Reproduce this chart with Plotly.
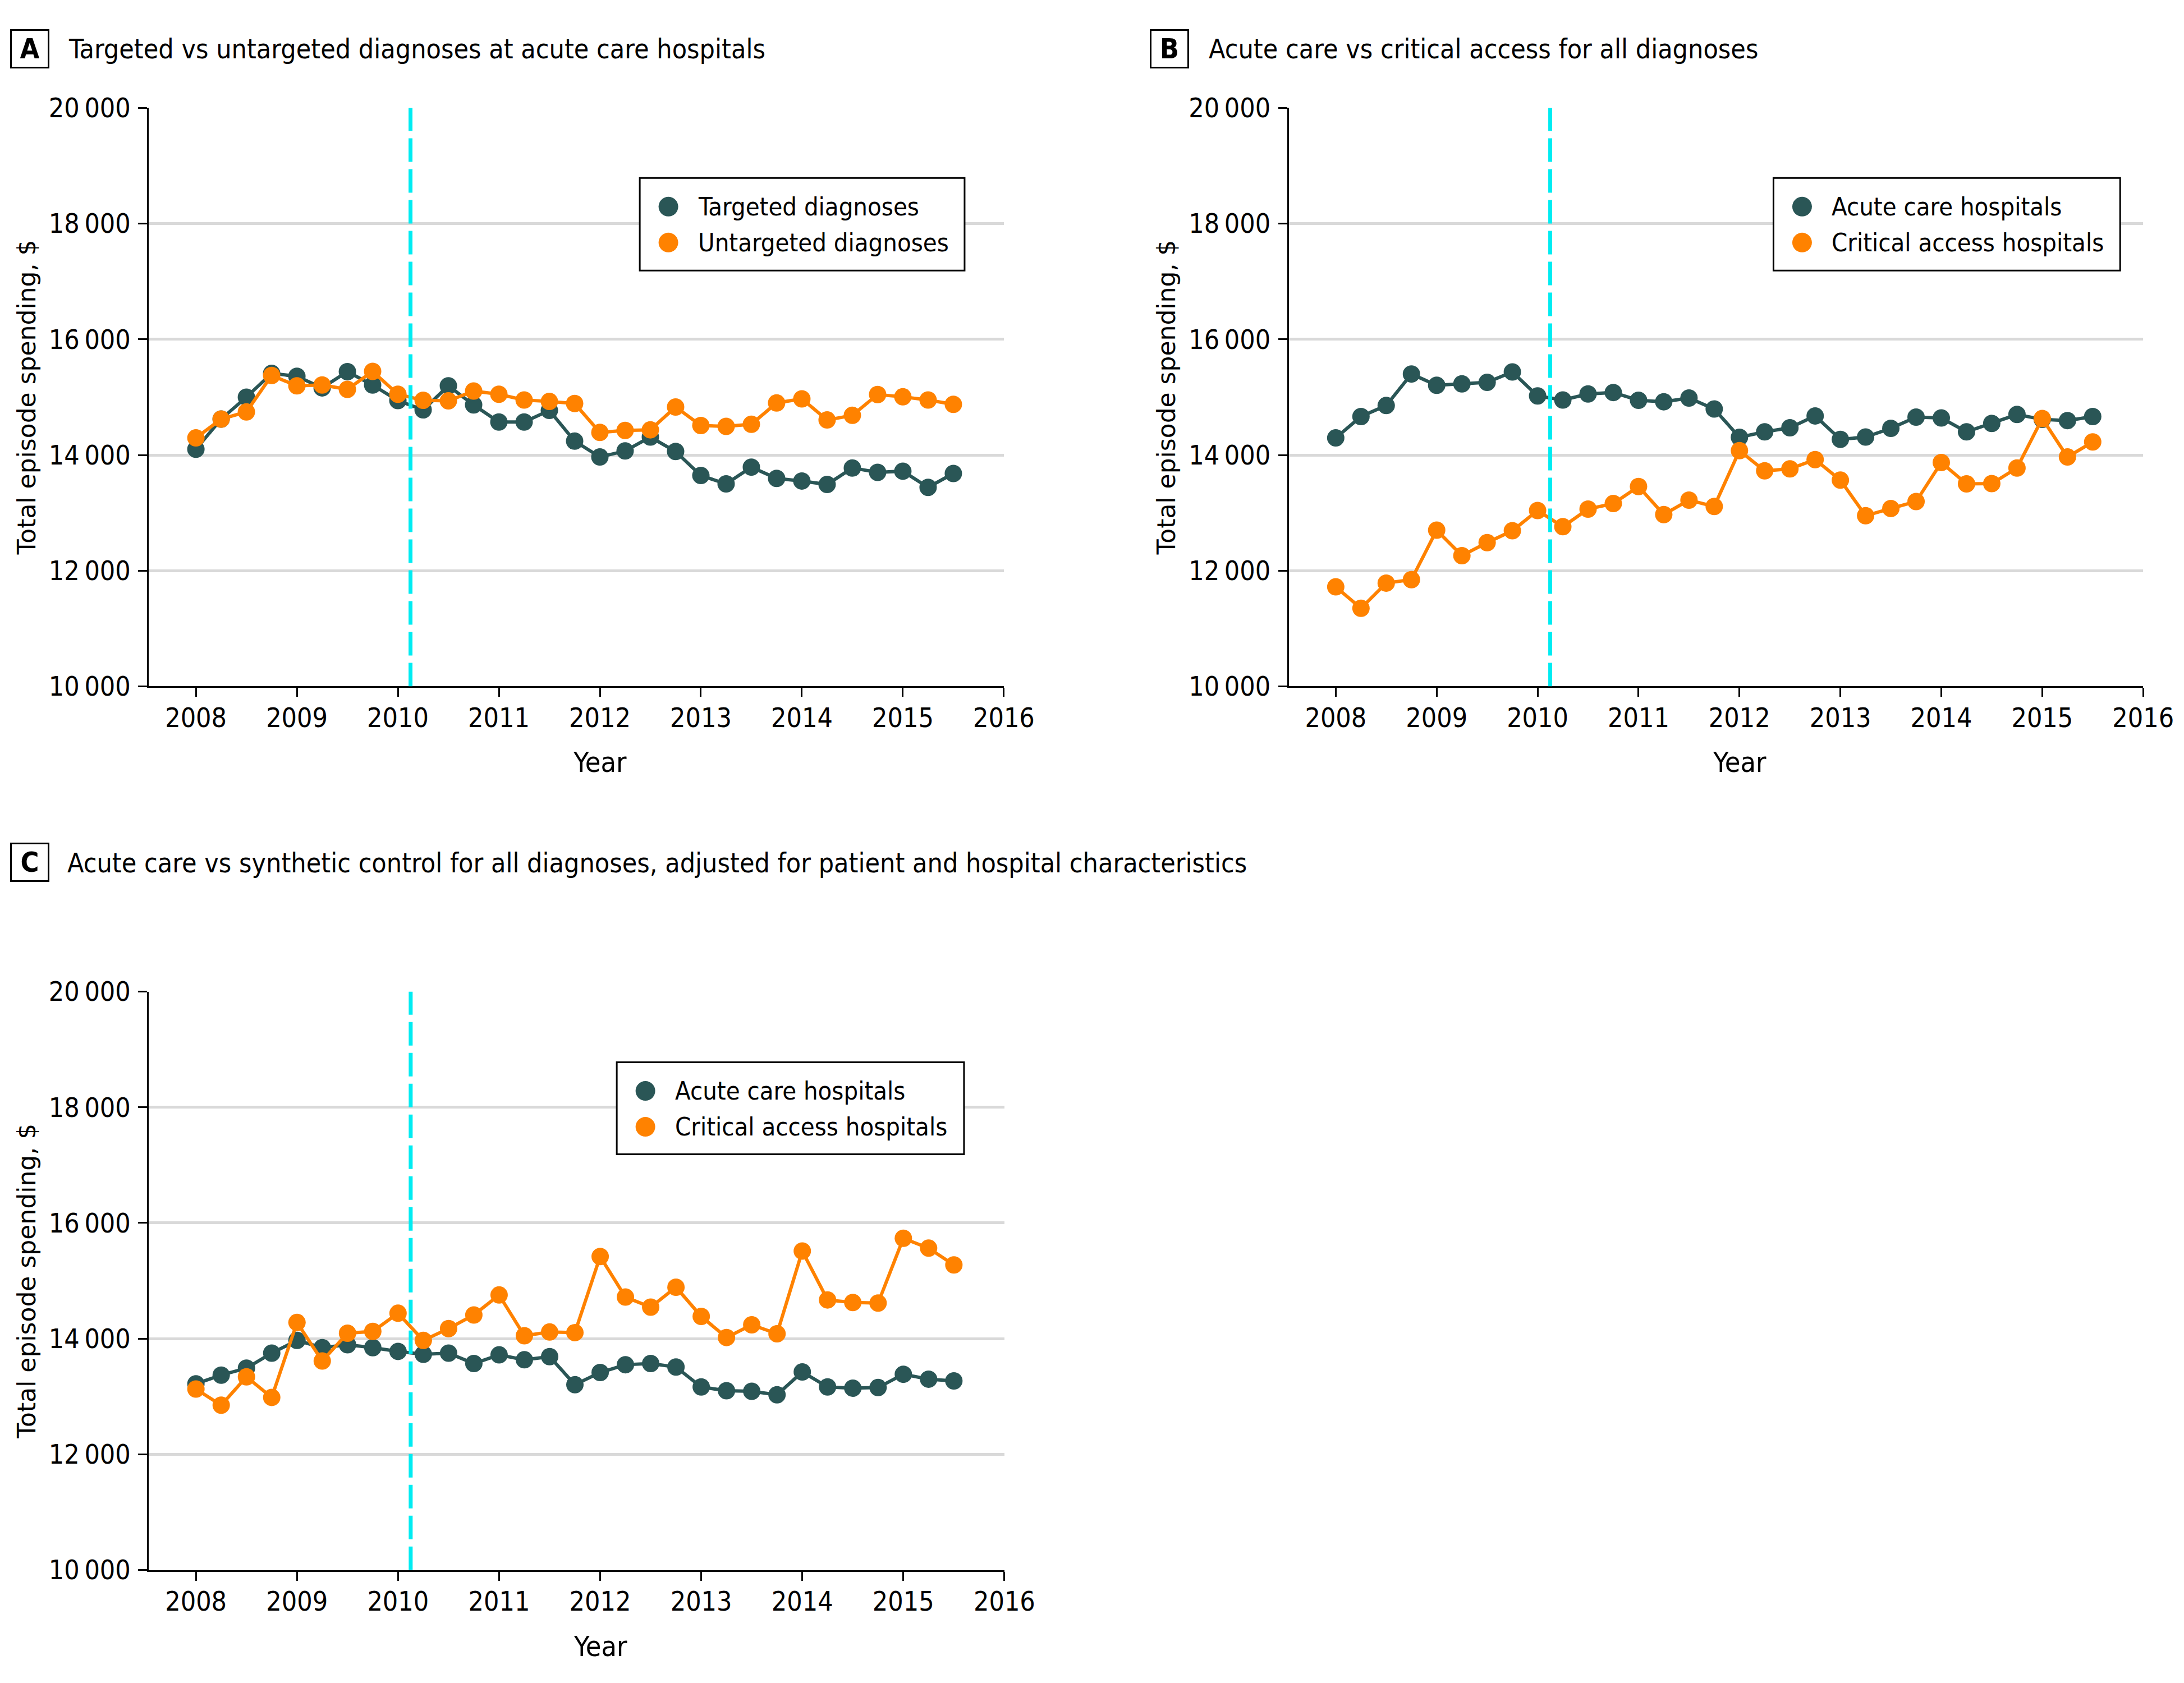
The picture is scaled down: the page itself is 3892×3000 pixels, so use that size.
import plotly.graph_objects as go

W, H = 3892, 3000

# ---------------- data ----------------
QUARTERS = [2008.0, 2008.25, 2008.5, 2008.75, 2009.0, 2009.25, 2009.5, 2009.75,
            2010.0, 2010.25, 2010.5, 2010.75, 2011.0, 2011.25, 2011.5, 2011.75,
            2012.0, 2012.25, 2012.5, 2012.75, 2013.0, 2013.25, 2013.5, 2013.75,
            2014.0, 2014.25, 2014.5, 2014.75, 2015.0, 2015.25, 2015.5]

A_TARGETED = [14100, 14620, 15000, 15410, 15360, 15160, 15440, 15210,
              14940, 14780, 15195, 14865, 14570, 14570, 14770, 14240,
              13965, 14070, 14310, 14060, 13645, 13500, 13790, 13595,
              13550, 13490, 13775, 13700, 13720, 13440, 13680]
A_UNTARGETED = [14295, 14620, 14745, 15375, 15195, 15210, 15135, 15445,
                15050, 14945, 14935, 15105, 15050, 14950, 14925, 14890,
                14390, 14425, 14435, 14830, 14510, 14495, 14530, 14900,
                14970, 14605, 14685, 15045, 15005, 14950, 14875]

B_ACUTE = [14295, 14665, 14855, 15400, 15205, 15230, 15255, 15435,
           15020, 14950, 15055, 15080, 14945, 14920, 14985, 14795,
           14305, 14400, 14470, 14675, 14270, 14310, 14460, 14655,
           14640, 14400, 14545, 14700, 14615, 14595, 14665]
B_CRITICAL = [11720, 11350, 11785, 11845, 12700, 12260, 12485, 12690,
              13040, 12760, 13065, 13160, 13455, 12970, 13220, 13110,
              14075, 13725, 13760, 13920, 13565, 12950, 13075, 13195,
              13870, 13500, 13505, 13775, 14630, 13965, 14225]

C_ACUTE = [13220, 13370, 13490, 13750, 13970, 13845, 13895, 13845,
           13780, 13730, 13750, 13570, 13720, 13635, 13690, 13205,
           13415, 13550, 13570, 13510, 13165, 13100, 13090, 13030,
           13425, 13165, 13145, 13155, 13385, 13300, 13270]
C_CRITICAL = [13130, 12850, 13340, 12985, 14280, 13615, 14095, 14125,
              14440, 13970, 14175, 14410, 14755, 14050, 14115, 14105,
              15420, 14720, 14545, 14890, 14385, 14020, 14240, 14085,
              15515, 14670, 14625, 14615, 15735, 15565, 15275]

POLICY_DATE = 2010.125

X_TICKS = [2008, 2009, 2010, 2011, 2012, 2013, 2014, 2015, 2016]
Y_TICKS = [10000, 12000, 14000, 16000, 18000, 20000]
Y_TICK_LABELS = ["10\u2009000", "12\u2009000", "14\u2009000", "16\u2009000", "18\u2009000", "20\u2009000"]

PANEL_LETTERS = ["A", "B", "C"]
PANEL_TITLES = [
    "Targeted vs untargeted diagnoses at acute care hospitals",
    "Acute care vs critical access for all diagnoses",
    "Acute care vs synthetic control for all diagnoses, adjusted for patient and hospital characteristics",
]
SERIES_NAMES = [
    ["Targeted diagnoses", "Untargeted diagnoses"],
    ["Acute care hospitals", "Critical access hospitals"],
    ["Acute care hospitals", "Critical access hospitals"],
]
SERIES_VALUES = [
    [A_TARGETED, A_UNTARGETED],
    [B_ACUTE, B_CRITICAL],
    [C_ACUTE, C_CRITICAL],
]
X_TITLE = "Year"
Y_TITLE = "Total episode spending, $"

# ---------------- style ----------------
DARK = "#2A5656"
ORANGE = "#FF8200"
CYAN = "#00ECF2"
GRID = "#D9D9D9"
COLORS = [DARK, ORANGE]
COND = "Liberation Sans Narrow, DejaVu Sans Condensed, Arial Narrow, sans-serif"
WIDE = "DejaVu Sans, Verdana, sans-serif"

# calibration between layout pixels and the photographed picture
AX, CX = 0.9862, -0.5
AY, CY = 0.9812, 27.7


def fx(px):
    return ((px - CX) / AX) / W


def fy(py):
    return 1 - ((py - CY) / AY) / H


# pixel layout of each panel: plot box (l, t, r, b), title box, legend box
PANELS = [
    dict(plot=(265, 192, 1789, 1223), lbox=(17, 51), title_x=120, legend=(1140, 317, 1719, 482)),
    dict(plot=(2297, 192, 3820, 1223), lbox=(2049, 51), title_x=2152, legend=(3161, 317, 3779, 482)),
    dict(plot=(265, 1767, 1790, 2798), lbox=(17, 1501), title_x=118, legend=(1099, 1893, 1718, 2057)),
]
X_RANGE = [2007.535, 2016]

fig = go.Figure()
shapes = []
annotations = []

for i, p in enumerate(PANELS):
    n = "" if i == 0 else str(i + 1)
    xa, ya = "x" + n, "y" + n
    l, t, r, b = p["plot"]
    for j in range(2):
        fig.add_trace(go.Scatter(
            x=QUARTERS, y=SERIES_VALUES[i][j], name=SERIES_NAMES[i][j],
            mode="lines+markers", xaxis=xa, yaxis=ya, showlegend=False,
            line=dict(color=COLORS[j], width=6),
            marker=dict(color=COLORS[j], size=31),
        ))
    axis_common = dict(ticks="outside", ticklen=16, tickwidth=3, tickcolor="black",
                       showline=True, linecolor="black", linewidth=3, zeroline=False,
                       tickfont=dict(family=COND, size=48, color="black"))
    fig.update_layout(**{
        "xaxis" + n: dict(domain=[fx(l), fx(r)], range=X_RANGE, tickvals=X_TICKS,
                          showgrid=False, anchor=ya, ticklabelstandoff=-4, **axis_common),
        "yaxis" + n: dict(domain=[fy(b), fy(t)], range=[10000, 20000], tickvals=Y_TICKS,
                          ticktext=Y_TICK_LABELS, showgrid=True, gridcolor=GRID, gridwidth=5,
                          anchor=xa, ticklabelstandoff=4,
                          title=dict(text=Y_TITLE, font=dict(family=WIDE, size=44, color="black"),
                                     standoff=10),
                          **axis_common),
    })
    # policy date reference line
    shapes.append(dict(type="line", xref=xa, yref=ya, x0=POLICY_DATE, x1=POLICY_DATE,
                       y0=10000, y1=20000, line=dict(color=CYAN, width=7, dash="42px,13px")))
    # x-axis title centred on the tick span
    annotations.append(dict(text=X_TITLE, xref=xa, yref="paper", x=(X_TICKS[0] + X_TICKS[-1]) / 2,
                            y=fy(b + 136), xanchor="center", yanchor="middle", showarrow=False,
                            font=dict(family=COND, size=50, color="black")))
    # panel letter box
    bx, by = p["lbox"]
    annotations.append(dict(text="<b>" + PANEL_LETTERS[i] + "</b>", xref="paper", yref="paper",
                            x=fx(bx + 35.5), y=fy(by + 35.5), xanchor="center", yanchor="middle",
                            width=62, height=62, borderpad=1, borderwidth=3, bordercolor="black",
                            showarrow=False, align="center", valign="middle",
                            font=dict(family=COND, size=50, color="black")))
    annotations.append(dict(text=PANEL_TITLES[i], xref="paper", yref="paper",
                            x=fx(p["title_x"]), y=fy(by + 36), xanchor="left", yanchor="middle",
                            showarrow=False, font=dict(family=COND, size=48, color="black")))
    # legend
    L, T, R, B = p["legend"]
    shapes.append(dict(type="rect", xref="paper", yref="paper", x0=fx(L), x1=fx(R), y0=fy(T), y1=fy(B),
                       line=dict(color="black", width=3), fillcolor="white", layer="above"))
    for j in range(2):
        cy = T + 51 + 64 * j
        cx = L + 51
        rad = 17.5
        shapes.append(dict(type="circle", xref="paper", yref="paper",
                           x0=fx(cx - rad), x1=fx(cx + rad), y0=fy(cy - rad), y1=fy(cy + rad),
                           line=dict(color=COLORS[j], width=0), fillcolor=COLORS[j], layer="above"))
        annotations.append(dict(text=SERIES_NAMES[i][j], xref="paper", yref="paper",
                                x=fx(L + 102), y=fy(cy), xanchor="left", yanchor="middle",
                                showarrow=False, font=dict(family=COND, size=45, color="black")))

fig.update_layout(
    width=W, height=H, margin=dict(l=0, r=0, t=0, b=0),
    paper_bgcolor="white", plot_bgcolor="white",
    shapes=shapes, annotations=annotations, showlegend=False,
)

fig.write_html("out.html", config={"displayModeBar": False},
               post_script="document.body.style.margin='0px';document.body.style.overflow='hidden';")
